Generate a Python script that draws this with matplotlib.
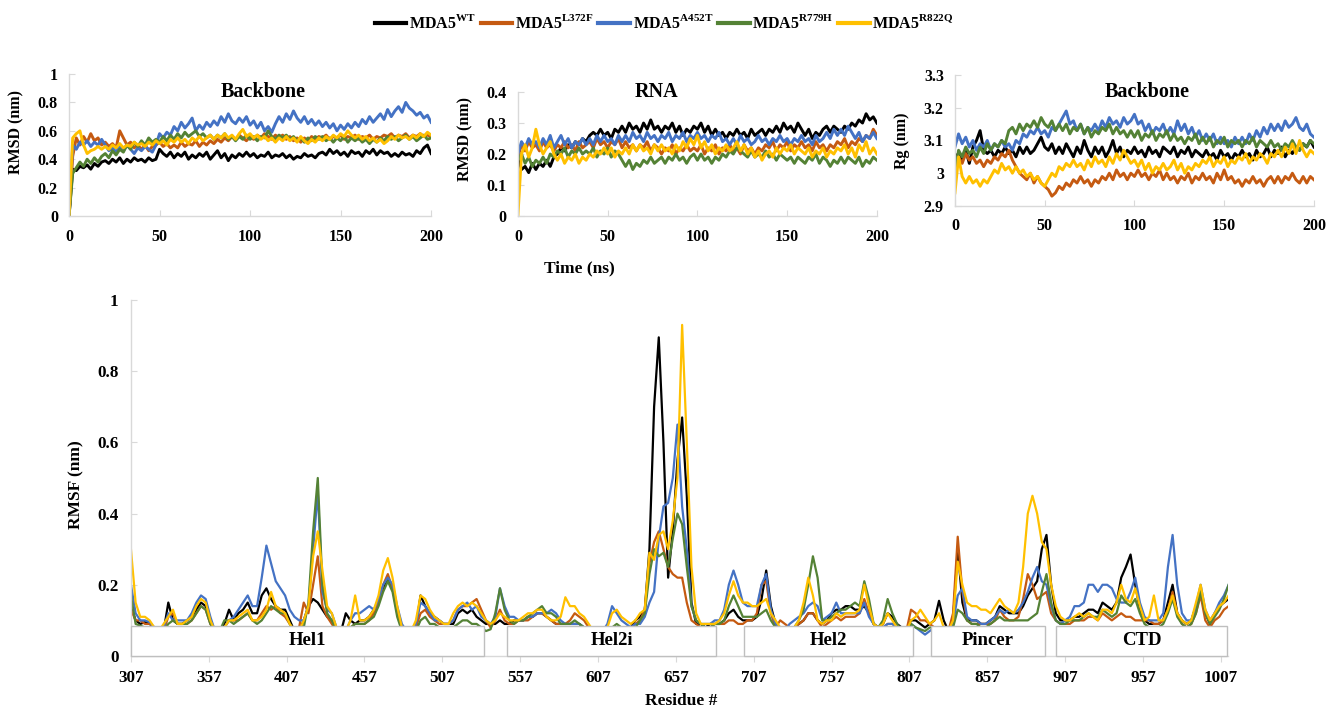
import numpy as np
import matplotlib
matplotlib.use("Agg")
import matplotlib.pyplot as plt
from matplotlib.lines import Line2D
from matplotlib.patches import Rectangle

plt.rcParams['font.family'] = ['Liberation Serif', 'DejaVu Serif']
plt.rcParams['font.weight'] = 'bold'
plt.rcParams['axes.labelweight'] = 'bold'
plt.rcParams['mathtext.fontset'] = 'custom'
plt.rcParams['mathtext.rm'] = 'Liberation Serif:bold'
plt.rcParams['mathtext.bf'] = 'Liberation Serif:bold'

# ---- series names / colours
variants = ['WT', 'L372F', 'A452T', 'R779H', 'R822Q']
colors = ['#000000', '#C55A11', '#4472C4', '#548235', '#FFC000']

# ---- time axis of the MD runs (ns), every 2 ns
time_ns = np.arange(0, 201, 2)

# backbone RMSD (nm)
rmsd_bb_wt = [0, .33, .32, .35, .34, .36, .33, .37, .35, .38,
              .39, .37, .40, .38, .41, .37, .40, .38, .41, .39,
              .40, .38, .41, .39, .40, .47, .44, .42, .45, .41,
              .44, .42, .45, .40, .43, .41, .44, .42, .45, .40,
              .43, .46, .41, .44, .39, .43, .41, .44, .42, .45,
              .42, .44, .41, .43, .42, .45, .41, .43, .42, .44,
              .41, .43, .40, .42, .41, .44, .42, .43, .41, .44,
              .45, .43, .47, .44, .46, .43, .45, .42, .46, .44,
              .45, .42, .46, .44, .47, .43, .46, .44, .45, .42,
              .44, .42, .45, .43, .44, .42, .46, .44, .48, .50,
              .44]
rmsd_bb_l372f = [0, .42, .55, .50, .56, .52, .58, .53, .55, .50,
                 .52, .49, .51, .48, .60, .55, .50, .52, .48, .50,
                 .47, .50, .46, .49, .50, .52, .49, .51, .48, .50,
                 .48, .52, .49, .51, .50, .53, .49, .52, .50, .53,
                 .51, .54, .52, .55, .53, .56, .54, .57, .55, .53,
                 .56, .54, .57, .55, .58, .56, .54, .57, .55, .57,
                 .54, .56, .53, .55, .52, .55, .53, .56, .54, .56,
                 .55, .57, .54, .56, .55, .57, .54, .56, .55, .57,
                 .54, .56, .55, .57, .54, .56, .55, .57, .56, .58,
                 .55, .57, .56, .58, .55, .57, .56, .58, .56, .57,
                 .56]
rmsd_bb_a452t = [0, .50, .47, .52, .50, .53, .49, .52, .50, .54,
                 .50, .46, .48, .45, .49, .46, .50, .47, .44, .48,
                 .46, .49, .47, .45, .50, .58, .55, .59, .57, .63,
                 .60, .66, .62, .65, .69, .60, .64, .61, .66, .63,
                 .67, .64, .70, .66, .72, .67, .65, .69, .66, .70,
                 .64, .67, .62, .66, .60, .63, .59, .65, .70, .66,
                 .72, .68, .74, .69, .66, .70, .65, .68, .64, .67,
                 .63, .66, .62, .65, .60, .64, .61, .65, .62, .66,
                 .63, .68, .65, .70, .66, .69, .72, .68, .75, .70,
                 .74, .77, .73, .80, .76, .74, .71, .73, .69, .71,
                 .66]
rmsd_bb_r779h = [0, .30, .34, .38, .35, .40, .37, .41, .38, .42,
                 .44, .41, .46, .43, .47, .45, .50, .47, .52, .49,
                 .53, .50, .55, .52, .54, .52, .56, .53, .57, .54,
                 .58, .55, .59, .56, .58, .60, .56, .58, .55, .57,
                 .54, .57, .55, .58, .54, .56, .53, .56, .54, .57,
                 .54, .56, .53, .56, .55, .60, .56, .54, .57, .55,
                 .57, .54, .56, .53, .55, .52, .55, .53, .56, .54,
                 .56, .53, .55, .52, .55, .53, .56, .52, .55, .53,
                 .55, .52, .54, .51, .54, .52, .55, .53, .56, .54,
                 .56, .53, .55, .57, .54, .56, .53, .55, .57, .54,
                 .55]
rmsd_bb_r822q = [0, .55, .58, .60, .50, .44, .46, .47, .49, .47,
                 .49, .47, .50, .48, .51, .48, .50, .49, .52, .50,
                 .51, .49, .52, .50, .53, .51, .53, .50, .54, .52,
                 .55, .52, .54, .51, .55, .53, .56, .53, .55, .57,
                 .54, .57, .55, .58, .55, .57, .54, .58, .61, .56,
                 .58, .55, .57, .54, .56, .53, .55, .52, .55, .53,
                 .56, .53, .55, .52, .56, .53, .51, .54, .52, .55,
                 .53, .56, .54, .57, .55, .58, .56, .60, .57, .55,
                 .57, .54, .56, .53, .55, .52, .54, .51, .53, .56,
                 .54, .57, .55, .56, .54, .57, .55, .58, .56, .59,
                 .57]

# RNA RMSD (nm)
rmsd_rna_wt = [.19, .15, .16, .14, .17, .15, .17, .16, .18, .16,
               .19, .20, .22, .21, .23, .22, .24, .23, .25, .24,
               .26, .27, .26, .28, .26, .27, .25, .28, .27, .29,
               .27, .30, .28, .29, .27, .30, .28, .31, .28, .29,
               .27, .29, .28, .30, .27, .29, .26, .28, .27, .29,
               .28, .30, .27, .29, .26, .28, .26, .27, .25, .27,
               .26, .28, .26, .27, .25, .28, .26, .27, .28, .26,
               .28, .27, .29, .27, .30, .28, .29, .27, .30, .28,
               .26, .28, .25, .27, .26, .28, .29, .27, .29, .28,
               .27, .29, .28, .30, .29, .31, .30, .33, .31, .32,
               .30]
rmsd_rna_l372f = [.19, .23, .21, .24, .22, .23, .21, .24, .22, .23,
                  .21, .23, .22, .24, .22, .23, .21, .24, .22, .23,
                  .24, .22, .25, .23, .24, .22, .24, .23, .25, .22,
                  .24, .22, .23, .21, .23, .22, .24, .21, .23, .22,
                  .20, .22, .21, .23, .20, .22, .21, .23, .21, .22,
                  .21, .23, .20, .22, .21, .23, .20, .22, .21, .23,
                  .21, .22, .20, .23, .21, .22, .20, .22, .21, .23,
                  .22, .24, .21, .23, .22, .24, .21, .23, .22, .24,
                  .22, .23, .21, .24, .22, .23, .21, .23, .22, .24,
                  .23, .25, .22, .24, .23, .25, .24, .26, .25, .28,
                  .26]
rmsd_rna_a452t = [.20, .24, .22, .25, .23, .24, .22, .25, .23, .26,
                  .22, .24, .26, .23, .25, .22, .24, .23, .25, .23,
                  .25, .23, .26, .24, .26, .24, .25, .23, .26, .24,
                  .26, .24, .27, .25, .26, .24, .27, .25, .26, .24,
                  .26, .25, .27, .24, .26, .25, .27, .24, .26, .25,
                  .27, .25, .26, .24, .26, .25, .27, .24, .25, .23,
                  .25, .23, .26, .24, .25, .23, .24, .26, .24, .25,
                  .23, .25, .24, .26, .24, .25, .23, .25, .24, .26,
                  .24, .25, .23, .26, .24, .25, .27, .25, .28, .26,
                  .28, .26, .29, .27, .25, .27, .24, .26, .25, .27,
                  .25]
rmsd_rna_r779h = [.18, .20, .17, .19, .16, .18, .17, .19, .17, .20,
                  .19, .21, .20, .22, .19, .21, .20, .22, .20, .21,
                  .20, .22, .19, .21, .20, .22, .19, .21, .20, .18,
                  .16, .18, .15, .17, .16, .18, .17, .19, .17, .18,
                  .19, .17, .19, .18, .20, .18, .19, .17, .19, .20,
                  .18, .20, .18, .19, .17, .19, .18, .20, .19, .21,
                  .20, .22, .21, .20, .19, .21, .19, .20, .19, .21,
                  .19, .20, .18, .20, .19, .18, .19, .17, .19, .18,
                  .17, .19, .18, .20, .17, .19, .18, .16, .18, .17,
                  .19, .17, .19, .18, .17, .19, .16, .18, .17, .19,
                  .18]
rmsd_rna_r822q = [0, .20, .23, .19, .22, .28, .23, .20, .22, .24,
                  .20, .18, .20, .17, .19, .18, .20, .17, .19, .18,
                  .20, .19, .21, .20, .22, .20, .22, .19, .21, .20,
                  .22, .20, .23, .21, .23, .21, .22, .20, .23, .21,
                  .23, .21, .22, .20, .23, .21, .24, .22, .25, .23,
                  .26, .22, .24, .21, .23, .20, .22, .21, .23, .21,
                  .22, .24, .21, .23, .20, .22, .19, .21, .18, .20,
                  .21, .19, .22, .20, .22, .21, .23, .20, .22, .21,
                  .20, .22, .19, .21, .20, .22, .19, .21, .20, .22,
                  .21, .23, .20, .22, .19, .23, .21, .24, .20, .22,
                  .20]

# backbone radius of gyration (nm)
rg_wt = [3.05, 3.06, 3.04, 3.07, 3.03, 3.08, 3.10, 3.13, 3.07, 3.06,
         3.07, 3.05, 3.07, 3.06, 3.08, 3.06, 3.07, 3.05, 3.08, 3.06,
         3.08, 3.06, 3.07, 3.09, 3.11, 3.08, 3.07, 3.09, 3.06, 3.08,
         3.06, 3.09, 3.07, 3.05, 3.08, 3.06, 3.10, 3.07, 3.05, 3.08,
         3.06, 3.08, 3.05, 3.07, 3.10, 3.06, 3.08, 3.05, 3.07, 3.06,
         3.08, 3.06, 3.07, 3.05, 3.08, 3.06, 3.07, 3.05, 3.08, 3.07,
         3.06, 3.08, 3.05, 3.07, 3.06, 3.08, 3.05, 3.07, 3.06, 3.05,
         3.07, 3.05, 3.06, 3.04, 3.07, 3.05, 3.06, 3.04, 3.06, 3.05,
         3.07, 3.05, 3.06, 3.04, 3.07, 3.05, 3.06, 3.08, 3.05, 3.07,
         3.06, 3.08, 3.05, 3.07, 3.06, 3.08, 3.07, 3.09, 3.08, 3.10,
         3.08]
rg_l372f = [3.02, 3.05, 3.03, 3.06, 3.04, 3.05, 3.03, 3.04, 3.02, 3.04,
            3.03, 3.05, 3.04, 3.06, 3.05, 3.07, 3.04, 3.02, 3.00, 2.99,
            2.98, 3.00, 2.97, 2.99, 2.97, 2.96, 2.95, 2.93, 2.94, 2.96,
            2.95, 2.97, 2.96, 2.98, 2.97, 2.99, 2.97, 2.98, 2.96, 2.98,
            2.97, 2.99, 2.98, 3.00, 2.98, 3.01, 2.99, 3.00, 2.98, 3.00,
            2.99, 3.01, 2.99, 3.00, 2.98, 3.00, 2.99, 3.01, 2.98, 3.00,
            2.98, 2.99, 2.97, 2.99, 2.98, 3.00, 2.97, 2.99, 2.98, 3.00,
            2.98, 2.99, 2.97, 3.00, 2.98, 3.01, 2.98, 2.99, 2.97, 2.98,
            2.96, 2.98, 2.97, 2.99, 2.97, 2.98, 2.96, 2.98, 2.99, 2.97,
            2.99, 2.97, 2.99, 2.98, 3.00, 2.98, 2.97, 2.99, 2.97, 2.99,
            2.98]
rg_a452t = [3.08, 3.12, 3.09, 3.11, 3.08, 3.10, 3.07, 3.09, 3.08, 3.10,
            3.07, 3.09, 3.08, 3.10, 3.08, 3.09, 3.07, 3.10, 3.09, 3.12,
            3.11, 3.13, 3.12, 3.14, 3.12, 3.13, 3.11, 3.14, 3.13, 3.15,
            3.17, 3.19, 3.15, 3.16, 3.13, 3.15, 3.12, 3.14, 3.13, 3.15,
            3.13, 3.16, 3.14, 3.17, 3.15, 3.16, 3.14, 3.17, 3.15, 3.16,
            3.18, 3.15, 3.16, 3.13, 3.15, 3.12, 3.14, 3.13, 3.15, 3.12,
            3.14, 3.12, 3.16, 3.13, 3.15, 3.12, 3.14, 3.11, 3.13, 3.10,
            3.12, 3.10, 3.12, 3.09, 3.11, 3.09, 3.10, 3.08, 3.11, 3.09,
            3.11, 3.09, 3.12, 3.10, 3.13, 3.11, 3.14, 3.12, 3.15, 3.13,
            3.15, 3.13, 3.16, 3.14, 3.15, 3.17, 3.14, 3.13, 3.15, 3.12,
            3.11]
rg_r779h = [3.00, 3.07, 3.05, 3.08, 3.06, 3.07, 3.05, 3.08, 3.06, 3.09,
            3.07, 3.09, 3.08, 3.10, 3.09, 3.13, 3.14, 3.12, 3.15, 3.13,
            3.15, 3.14, 3.16, 3.14, 3.17, 3.15, 3.14, 3.16, 3.13, 3.15,
            3.13, 3.15, 3.12, 3.14, 3.13, 3.15, 3.12, 3.14, 3.11, 3.13,
            3.12, 3.14, 3.13, 3.15, 3.12, 3.14, 3.12, 3.13, 3.11, 3.13,
            3.11, 3.13, 3.10, 3.12, 3.11, 3.13, 3.10, 3.12, 3.11, 3.13,
            3.10, 3.12, 3.10, 3.11, 3.09, 3.11, 3.10, 3.12, 3.09, 3.11,
            3.09, 3.11, 3.08, 3.10, 3.09, 3.11, 3.08, 3.10, 3.09, 3.10,
            3.08, 3.10, 3.09, 3.11, 3.08, 3.10, 3.09, 3.08, 3.10, 3.08,
            3.09, 3.07, 3.09, 3.08, 3.10, 3.08, 3.07, 3.09, 3.08, 3.10,
            3.09]
rg_r822q = [2.94, 3.05, 2.99, 2.97, 2.99, 2.97, 2.98, 2.96, 2.98, 2.97,
            2.99, 3.01, 3.00, 3.03, 3.01, 3.02, 3.00, 3.02, 3.00, 3.01,
            2.99, 3.00, 2.98, 2.99, 2.97, 2.96, 2.98, 3.00, 2.99, 3.02,
            3.01, 3.03, 3.02, 3.04, 3.02, 3.03, 3.01, 3.04, 3.02, 3.05,
            3.03, 3.04, 3.02, 3.05, 3.03, 3.06, 3.04, 3.07, 3.05, 3.03,
            3.04, 3.02, 3.04, 3.01, 3.03, 3.00, 3.02, 3.01, 3.03, 3.01,
            3.02, 3.04, 3.01, 3.03, 3.00, 3.02, 3.01, 3.03, 3.02, 3.04,
            3.03, 3.05, 3.02, 3.04, 3.03, 3.05, 3.02, 3.04, 3.03, 3.05,
            3.04, 3.06, 3.03, 3.05, 3.04, 3.06, 3.05, 3.03, 3.06, 3.05,
            3.07, 3.05, 3.08, 3.06, 3.09, 3.06, 3.10, 3.07, 3.05, 3.07,
            3.06]

# ---- per-residue RMSF (nm), every 3rd residue from 307
residue = np.arange(307, 1013, 3)
rmsf_wt = [.14, .10, .09, .095, .09, .08, .07, .07, .15, .10,     # 307
           .09, .09, .10, .11, .13, .15, .14, .10, .07, .07,      # 337
           .09, .13, .10, .12, .13, .15, .12, .12, .17, .19,      # 367
           .16, .14, .13, .13, .10, .07, .07, .10, .14, .16,      # 397
           .15, .13, .11, .10, .07, .07, .12, .10, .09, .10,      # 427
           .10, .11, .13, .15, .19, .22, .19, .13, .08, .07,      # 457
           .07, .08, .17, .14, .12, .11, .10, .09, .09, .09,      # 487
           .12, .13, .12, .13, .11, .10, .09, .09, .09, .10,      # 517
           .09, .09, .10, .10, .10, .11, .11, .12, .12, .11,      # 547
           .10, .09, .09, .09, .09, .09, .09, .08, .07, .07,      # 577
           .07, .07, .07, .07, .07, .07, .07, .08, .10, .11,      # 607
           .13, .30, .70, .895, .60, .22, .35, .55, .67, .45,     # 637
           .15, .09, .09, .08, .09, .09, .09, .10, .12, .13,      # 667
           .11, .10, .10, .10, .11, .16, .24, .14, .09, .07,      # 697
           .07, .07, .08, .09, .10, .12, .12, .10, .09, .10,      # 727
           .12, .13, .13, .14, .14, .13, .13, .14, .12, .09,      # 757
           .08, .09, .12, .11, .09, .08, .07, .10, .10, .09,      # 787
           .08, .09, .10, .155, .10, .07, .10, .30, .15, .10,     # 817
           .10, .10, .09, .09, .10, .11, .14, .13, .12, .12,      # 847
           .12, .14, .17, .19, .21, .30, .34, .20, .12, .10,      # 877
           .10, .10, .11, .11, .12, .13, .13, .12, .15, .14,      # 907
           .13, .15, .22, .25, .285, .20, .13, .10, .09, .09,     # 937
           .09, .10, .15, .20, .12, .10, .09, .10, .14, .19,      # 967
           .12, .09, .12, .14, .15, .16]                          # 997
rmsf_l372f = [.13, .10, .10, .09, .09, .08, .07, .07, .11, .12,
              .09, .09, .09, .10, .12, .14, .13, .09, .07, .07,
              .08, .10, .10, .10, .11, .12, .10, .10, .12, .14,
              .13, .14, .12, .11, .09, .07, .08, .15, .12, .20,
              .28, .14, .11, .09, .07, .07, .07, .08, .09, .09,
              .09, .10, .12, .15, .20, .23, .19, .12, .08, .07,
              .07, .08, .12, .13, .11, .10, .09, .09, .09, .10,
              .13, .14, .14, .15, .16, .13, .10, .08, .10, .13,
              .10, .09, .09, .10, .10, .10, .11, .12, .12, .11,
              .10, .09, .09, .09, .10, .12, .11, .10, .08, .07,
              .07, .07, .07, .08, .08, .07, .07, .08, .09, .10,
              .13, .26, .32, .35, .30, .25, .23, .22, .22, .15,
              .10, .09, .08, .08, .08, .09, .09, .09, .10, .10,
              .09, .09, .10, .10, .12, .20, .21, .12, .08, .10,
              .09, .08, .08, .09, .10, .12, .12, .10, .08, .09,
              .10, .11, .10, .11, .11, .11, .12, .16, .12, .09,
              .08, .08, .09, .09, .08, .07, .07, .13, .12, .10,
              .10, .09, .08, .08, .07, .07, .12, .335, .18, .10,
              .09, .09, .09, .09, .09, .10, .13, .11, .10, .10,
              .11, .16, .23, .20, .16, .17, .18, .12, .10, .09,
              .09, .09, .10, .10, .10, .11, .11, .10, .12, .11,
              .10, .11, .12, .11, .11, .10, .10, .10, .10, .09,
              .09, .10, .13, .18, .12, .09, .08, .09, .12, .17,
              .10, .08, .10, .11, .13, .14]
rmsf_a452t = [.20, .12, .10, .10, .095, .08, .07, .08, .12, .10,
              .10, .10, .10, .12, .15, .17, .16, .11, .07, .07,
              .08, .10, .11, .13, .15, .17, .14, .14, .22, .31,
              .26, .21, .19, .17, .13, .11, .10, .10, .14, .30,
              .46, .18, .13, .12, .08, .07, .07, .10, .12, .12,
              .13, .14, .13, .16, .20, .22, .20, .14, .09, .07,
              .07, .09, .15, .14, .12, .10, .10, .09, .09, .10,
              .13, .14, .15, .13, .14, .11, .10, .09, .11, .19,
              .14, .11, .11, .10, .10, .11, .11, .12, .12, .12,
              .13, .12, .10, .09, .09, .09, .09, .08, .07, .07,
              .07, .07, .09, .14, .12, .10, .09, .08, .09, .09,
              .11, .15, .18, .33, .42, .43, .50, .65, .42, .30,
              .14, .10, .09, .09, .09, .10, .10, .13, .20, .24,
              .20, .15, .14, .14, .14, .20, .23, .13, .09, .08,
              .07, .09, .10, .11, .12, .14, .15, .14, .10, .11,
              .12, .15, .12, .12, .12, .12, .12, .15, .11, .09,
              .08, .08, .09, .09, .08, .07, .07, .09, .08, .07,
              .06, .07, .08, .08, .07, .07, .09, .17, .19, .11,
              .10, .10, .09, .09, .10, .11, .13, .12, .13, .12,
              .13, .15, .18, .22, .25, .21, .20, .14, .10, .09,
              .10, .11, .14, .14, .15, .20, .20, .18, .20, .20,
              .19, .16, .15, .15, .18, .22, .15, .11, .10, .10,
              .10, .12, .25, .34, .20, .12, .10, .10, .14, .20,
              .13, .10, .12, .15, .17, .20]
rmsf_r779h = [.17, .09, .085, .08, .08, .07, .07, .07, .09, .10,
              .09, .09, .09, .10, .12, .14, .13, .09, .07, .07,
              .10, .10, .09, .10, .11, .12, .10, .09, .10, .12,
              .14, .13, .12, .12, .09, .07, .07, .08, .15, .35,
              .50, .20, .12, .10, .07, .07, .07, .08, .09, .09,
              .09, .10, .11, .14, .18, .21, .18, .11, .07, .07,
              .07, .07, .10, .11, .09, .09, .08, .08, .08, .08,
              .09, .10, .10, .09, .09, .08, .07, .075, .12, .19,
              .13, .10, .09, .10, .10, .11, .12, .13, .14, .12,
              .12, .11, .09, .09, .09, .10, .09, .08, .07, .07,
              .07, .07, .07, .08, .09, .08, .07, .07, .08, .10,
              .12, .23, .30, .28, .29, .25, .33, .40, .37, .25,
              .14, .10, .09, .08, .08, .09, .09, .10, .14, .17,
              .14, .11, .11, .11, .11, .12, .13, .10, .08, .07,
              .07, .07, .08, .10, .13, .20, .28, .22, .10, .10,
              .11, .12, .13, .13, .14, .15, .14, .21, .16, .09,
              .08, .10, .16, .12, .09, .07, .07, .09, .08, .075,
              .07, .08, .08, .08, .07, .07, .08, .13, .12, .10,
              .09, .09, .08, .08, .09, .10, .11, .10, .10, .10,
              .10, .10, .10, .11, .12, .18, .23, .15, .10, .09,
              .09, .10, .10, .10, .11, .12, .11, .11, .13, .12,
              .11, .12, .17, .15, .14, .16, .12, .09, .08, .08,
              .08, .09, .12, .16, .11, .09, .08, .09, .12, .18,
              .12, .09, .11, .13, .16, .20]
rmsf_r822q = [.30, .15, .11, .11, .10, .08, .07, .09, .11, .13,
              .09, .09, .10, .11, .14, .16, .15, .10, .07, .07,
              .08, .10, .10, .11, .12, .13, .10, .10, .11, .13,
              .18, .14, .13, .12, .09, .07, .07, .10, .14, .28,
              .35, .24, .14, .12, .08, .07, .07, .10, .17, .10,
              .10, .11, .13, .17, .24, .275, .22, .14, .08, .07,
              .07, .10, .17, .16, .13, .11, .10, .09, .09, .12,
              .14, .15, .14, .15, .14, .12, .10, .09, .10, .12,
              .11, .10, .10, .10, .11, .12, .12, .13, .13, .11,
              .10, .10, .11, .165, .14, .14, .12, .11, .09, .07,
              .07, .07, .08, .12, .13, .11, .10, .09, .10, .12,
              .13, .29, .27, .34, .35, .30, .38, .50, .93, .60,
              .25, .12, .09, .09, .09, .09, .10, .12, .17, .21,
              .17, .15, .15, .14, .14, .15, .16, .12, .10, .08,
              .07, .07, .08, .10, .15, .22, .17, .10, .09, .10,
              .10, .12, .11, .12, .12, .12, .13, .20, .14, .09,
              .08, .09, .12, .10, .08, .07, .07, .10, .11, .13,
              .11, .09, .10, .12, .08, .07, .10, .265, .20, .15,
              .14, .14, .13, .13, .12, .14, .16, .14, .13, .12,
              .15, .25, .40, .45, .40, .32, .30, .20, .14, .11,
              .10, .10, .11, .12, .11, .12, .11, .10, .13, .13,
              .12, .15, .20, .16, .15, .19, .14, .10, .11, .17,
              .10, .10, .13, .17, .12, .10, .09, .10, .15, .20,
              .13, .10, .12, .14, .15, .17]

# domains along the sequence (start, end, name)
domains = [(307, 534, 'Hel1'), (548.5, 683, 'Hel2i'), (701, 809, 'Hel2'),
           (821, 894, 'Pincer'), (901, 1011, 'CTD')]
domain_top = 0.085

rmsd_bb = [rmsd_bb_wt, rmsd_bb_l372f, rmsd_bb_a452t, rmsd_bb_r779h, rmsd_bb_r822q]
rmsd_rna = [rmsd_rna_wt, rmsd_rna_l372f, rmsd_rna_a452t, rmsd_rna_r779h, rmsd_rna_r822q]
rg_bb = [rg_wt, rg_l372f, rg_a452t, rg_r779h, rg_r822q]
rmsf = [rmsf_wt, rmsf_l372f, rmsf_a452t, rmsf_r779h, rmsf_r822q]

grey = '#D9D9D9'


def style_axes(ax):
    for side in ['top', 'right']:
        ax.spines[side].set_visible(False)
    for side in ['left', 'bottom']:
        ax.spines[side].set_color(grey)
        ax.spines[side].set_linewidth(1.0)
    ax.tick_params(axis='both', direction='in', length=4, color=grey, labelsize=11.5, pad=8)
    ax.yaxis.set_major_formatter(plt.FuncFormatter(lambda v, p: f'{v:g}'))
    for lab in ax.get_xticklabels() + ax.get_yticklabels():
        lab.set_fontweight('bold')


fig = plt.figure(figsize=(13.28, 7.09), dpi=100)

ax1 = fig.add_axes([0.052, 0.6953, 0.2726, 0.2003])
ax2 = fig.add_axes([0.390, 0.6953, 0.2703, 0.1749])
ax3 = fig.add_axes([0.7191, 0.7095, 0.2703, 0.1848])
ax4 = fig.add_axes([0.0986, 0.0748, 0.8260, 0.5021])

# top row
for ax, data in zip([ax1, ax2, ax3], [rmsd_bb, rmsd_rna, rg_bb]):
    for vals, c in zip(data, colors):
        ax.plot(time_ns, vals, color=c, lw=2.1)
    ax.set_xlim(0, 200)
    ax.set_xticks([0, 50, 100, 150, 200])
    style_axes(ax)
    ax.tick_params(axis='x', pad=9)

ax1.set_ylim(0, 1)
ax1.set_yticks([0, 0.2, 0.4, 0.6, 0.8, 1.0])
ax1.set_ylabel('RMSD (nm)', fontsize=11.5)
ax1.yaxis.set_label_coords(-0.122, 0.59)
ax1.text(0.536, 0.873, 'Backbone', transform=ax1.transAxes, ha='center', va='center',
         fontsize=14.5, fontweight='bold')

ax2.set_ylim(0, 0.4)
ax2.set_yticks([0, 0.1, 0.2, 0.3, 0.4])
ax2.set_ylabel('RMSD (nm)', fontsize=11.5)
ax2.yaxis.set_label_coords(-0.125, 0.62)
ax2.set_xlabel('Time (ns)', fontsize=12.5)
ax2.xaxis.set_label_coords(0.17, -0.355)
ax2.text(0.387, 1.0, 'RNA', transform=ax2.transAxes, ha='center', va='center',
         fontsize=14.5, fontweight='bold')

ax3.set_ylim(2.9, 3.3)
ax3.set_yticks([2.9, 3.0, 3.1, 3.2, 3.3])
ax3.set_ylabel('Rg (nm)', fontsize=11.5)
ax3.yaxis.set_label_coords(-0.125, 0.5)
ax3.text(0.535, 0.87, 'Backbone', transform=ax3.transAxes, ha='center', va='center',
         fontsize=14.5, fontweight='bold')

# bottom: RMSF
for vals, c in zip(rmsf, colors):
    ax4.plot(residue, vals, color=c, lw=1.6, zorder=2)
ax4.set_xlim(307, 1011.5)
ax4.set_ylim(0, 1)
ax4.set_xticks(np.arange(307, 1008, 50))
ax4.set_yticks([0, 0.2, 0.4, 0.6, 0.8, 1.0])
style_axes(ax4)
ax4.tick_params(axis='both', labelsize=12.3)
ax4.tick_params(axis='x', direction='out', length=4, pad=6)
ax4.tick_params(axis='y', pad=9)
ax4.set_ylabel('RMSF (nm)', fontsize=12.5)
ax4.yaxis.set_label_coords(-0.042, 0.48)
ax4.set_xlabel('Residue #', fontsize=12.5)
ax4.xaxis.set_label_coords(0.502, -0.104)

for start, end, name in domains:
    ax4.add_patch(Rectangle((start, 0), end - start, domain_top, facecolor='white',
                            edgecolor='#BFBFBF', lw=1.0, zorder=5, clip_on=False))
    ax4.text((start + end) / 2, domain_top / 2, name, ha='center', va='center',
             fontsize=13.5, fontweight='bold', zorder=6)

# legend
handles = [Line2D([0], [0], color=c, lw=3) for c in colors]
labels = [r'MDA5$^{\mathbf{' + v + '}}$' for v in variants]
fig.legend(handles, labels, loc='upper center', bbox_to_anchor=(0.5, 1.0), ncol=5,
           frameon=False, fontsize=11.5, handlelength=2.0, handletextpad=0.15,
           columnspacing=0.3)

fig.savefig('out.png', dpi=100)
